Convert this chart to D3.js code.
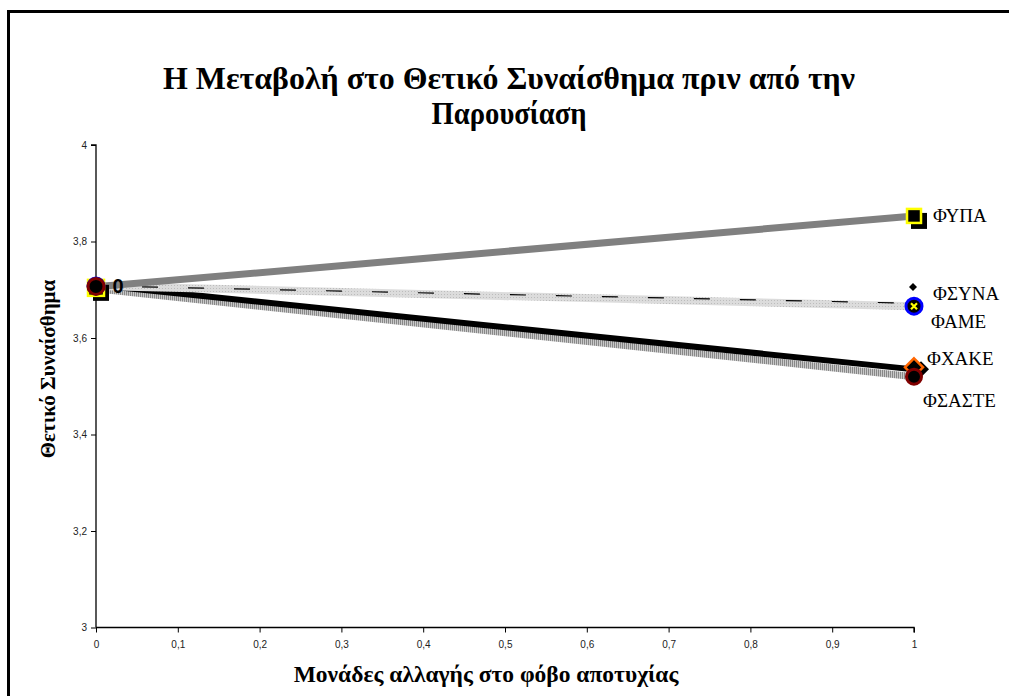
<!DOCTYPE html>
<html><head><meta charset="utf-8">
<script src="https://cdn.jsdelivr.net/npm/d3@7"></script>
<style>body{margin:0;background:#fff;} svg{display:block;}</style>
</head><body>
<svg id="c" width="1009" height="696"></svg>
<script>
const xValues = [0, 1];
const seriesNames = ["ΦΣΑΣΤΕ", "ΦΧΑΚΕ", "ΦΑΜΕ", "ΦΣΥΝΑ", "ΦΥΠΑ"];
const fsaste = [3.706, 3.524];
const fxake = [3.710, 3.535];
const fame = [3.708, 3.666];
const fsyna = [3.708, 3.672];
const fypa = [3.706, 3.853];
const xTicks = [0, 0.1, 0.2, 0.3, 0.4, 0.5, 0.6, 0.7, 0.8, 0.9, 1];
const yTicks = [3, 3.2, 3.4, 3.6, 3.8, 4];
const titleLines = ["Η Μεταβολή στο Θετικό Συναίσθημα πριν από την", "Παρουσίαση"];
const xTitle = "Μονάδες αλλαγής στο φόβο αποτυχίας";
const yTitle = "Θετικό Συναίσθημα";

const svg = d3.select("#c");
const fmt = d => String(d).replace(".", ",");
const x = d3.scaleLinear().domain([0, 1]).range([96, 914]);
const y = d3.scaleLinear().domain([3, 4]).range([627.5, 145]);
const serif = "Liberation Serif, Times New Roman, serif";

// frame
svg.append("rect").attr("x", 8.5).attr("y", 11.5).attr("width", 1010).attr("height", 700)
  .attr("fill", "none").attr("stroke", "#000").attr("stroke-width", 3);

// title
const tWidths = [692, 155];
svg.append("g").selectAll("text").data(titleLines).join("text")
  .attr("x", 509).attr("y", (d, i) => 89 + i * 35).attr("text-anchor", "middle")
  .attr("font-family", serif).attr("font-weight", "bold").attr("font-size", 31)
  .attr("textLength", (d, i) => tWidths[i]).attr("lengthAdjust", "spacingAndGlyphs")
  .text(d => d);

// axes
const yAxis = d3.axisLeft(y).tickValues(yTicks).tickFormat(fmt).tickSize(5).tickPadding(4);
const gy = svg.append("g").attr("transform", `translate(${x(0)},0)`).call(yAxis);
const xAxis = d3.axisBottom(x).tickValues(xTicks).tickFormat(fmt).tickSize(5).tickPadding(8);
const gx = svg.append("g").attr("transform", `translate(0,${y(3)})`).call(xAxis);
[gx, gy].forEach(g => {
  g.select(".domain").attr("stroke", "#000").attr("stroke-width", 1.3);
  g.selectAll(".tick line").attr("stroke", "#000");
  g.selectAll("text").attr("font-family", "Liberation Sans, Arial, sans-serif").attr("font-size", 10).attr("fill", "#222");
});
gx.select(".domain").attr("d", `M${x(0)},0H${x(1)}V5`);
gy.select(".domain").attr("d", `M-5,${y(4)}H0V${y(3)}`);

// axis titles
svg.append("text").attr("x", 486).attr("y", 682).attr("text-anchor", "middle")
  .attr("font-family", serif).attr("font-weight", "bold")
  .attr("font-size", 23.5).text(xTitle);
svg.append("text").attr("transform", "translate(55,369) rotate(-90)").attr("text-anchor", "middle")
  .attr("font-family", serif).attr("font-weight", "bold")
  .attr("font-size", 21).text(yTitle);

// patterns
const defs = svg.append("defs");
const p1 = defs.append("pattern").attr("id", "dotGrey").attr("width", 3).attr("height", 3).attr("patternUnits", "userSpaceOnUse");
p1.append("rect").attr("width", 3).attr("height", 3).attr("fill", "#dcdcdc");
p1.append("rect").attr("width", 1).attr("height", 1).attr("fill", "#bcbcbc");
const p2 = defs.append("pattern").attr("id", "stripeGrey").attr("width", 2).attr("height", 2).attr("patternUnits", "userSpaceOnUse");
p2.append("rect").attr("width", 2).attr("height", 2).attr("fill", "#c8c8c8");
p2.append("rect").attr("width", 1).attr("height", 2).attr("fill", "#888");

const line = d3.line().x((d, i) => x(xValues[i])).y(d => y(d));
const lineStyles = [
  {name: "ΦΣΑΣΤΕ", v: fsaste, stroke: "url(#stripeGrey)", w: 7, dash: null, dy: 2},
  {name: "ΦΧΑΚΕ", v: fxake, stroke: "#000", w: 6, dash: null, dy: 0},
  {name: "ΦΑΜΕ", v: fame, stroke: "url(#dotGrey)", w: 8, dash: null, dy: 0},
  {name: "ΦΣΥΝΑ", v: fsyna, stroke: "#000", w: 1.2, dash: "16,30", dy: 0},
  {name: "ΦΥΠΑ", v: fypa, stroke: "#808080", w: 7, dash: null, dy: 0}
];
lineStyles.forEach(s => {
  svg.append("path").attr("d", line(s.v)).attr("fill", "none")
    .attr("stroke", s.stroke).attr("stroke-width", s.w)
    .attr("stroke-dasharray", s.dash)
    .attr("transform", `translate(0,${s.dy})`);
});

// markers
function squareMarker(cx, cy, h) {
  svg.append("rect").attr("x", cx - 3).attr("y", cy - 3).attr("width", 16).attr("height", 16).attr("fill", "#000");
  svg.append("rect").attr("x", cx - h).attr("y", cy - h).attr("width", 2 * h).attr("height", 2 * h)
    .attr("fill", "#000").attr("stroke", "#ffff00").attr("stroke-width", 2.5);
}
function diamond(cx, cy, r, fill, stroke, sw) {
  svg.append("path").attr("d", `M${cx},${cy - r}L${cx + r},${cy}L${cx},${cy + r}L${cx - r},${cy}Z`)
    .attr("fill", fill).attr("stroke", stroke).attr("stroke-width", sw);
}
function ameMarker(cx, cy) {
  svg.append("circle").attr("cx", cx).attr("cy", cy).attr("r", 8).attr("fill", "#000").attr("stroke", "#0000ff").attr("stroke-width", 3);
  svg.append("path").attr("d", `M${cx - 3},${cy - 3}L${cx + 3},${cy + 3}M${cx + 3},${cy - 3}L${cx - 3},${cy + 3}`)
    .attr("stroke", "#ffff00").attr("stroke-width", 2.2);
}
function sasteMarker(cx, cy, r) {
  svg.append("circle").attr("cx", cx).attr("cy", cy).attr("r", r).attr("fill", "#000").attr("stroke", "#800000").attr("stroke-width", 3);
}

// end points (x=1)
diamond(x(1) + 7, y(fxake[1]), 8, "#000", "none", 0);
diamond(x(1), y(fxake[1]) - 2, 9, "#000", "#ff6600", 2.5);
sasteMarker(x(1), y(fsaste[1]) + 2, 7.5);
ameMarker(x(1), y(fame[1]));
diamond(x(1) - 1, y(fsyna[0]) + 1, 4, "#000", "none", 0);
squareMarker(x(1), y(fypa[1]), 7);

// start points (x=0)
squareMarker(x(0), y(fypa[0]) + 1, 8);
ameMarker(x(0), y(fame[0]));
sasteMarker(x(0), y(fame[0]) + 0.5, 8);
svg.append("text").attr("x", 118).attr("y", y(fxake[0]) + 8).attr("text-anchor", "middle")
  .attr("font-family", "Liberation Sans, Arial, sans-serif").attr("font-weight", "bold").attr("font-size", 20).text("0");

// series labels
const labelPos = {"ΦΥΠΑ": [933, fypa[1], 6], "ΦΣΥΝΑ": [933, fsyna[1], -3], "ΦΑΜΕ": [931, fame[1], 22],
  "ΦΧΑΚΕ": [927, fxake[1], -4], "ΦΣΑΣΤΕ": [923, fsaste[1], 32]};
seriesNames.forEach(n => {
  const [lx, v, off] = labelPos[n];
  svg.append("text").attr("x", lx).attr("y", y(v) + off)
    .attr("font-family", serif).attr("font-size", 19).text(n);
});
</script>
</body></html>
